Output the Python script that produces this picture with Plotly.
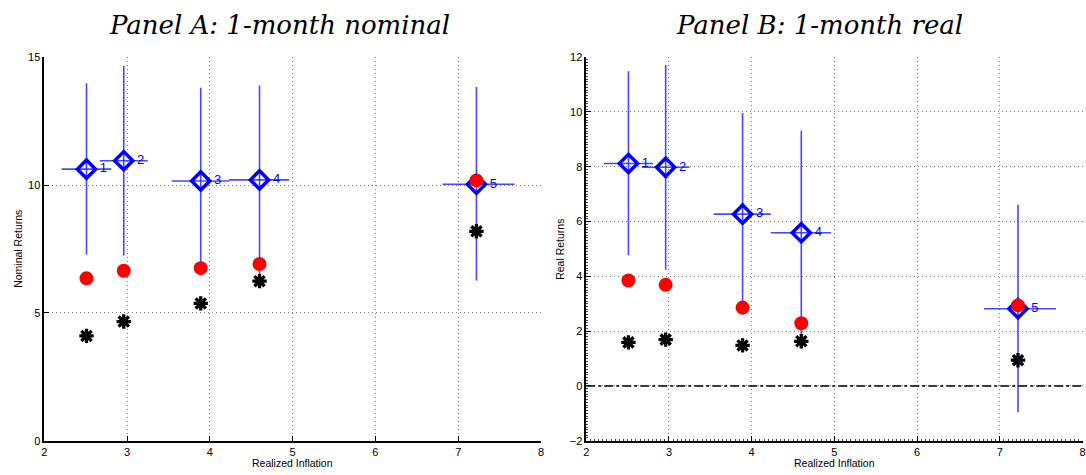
import plotly.graph_objects as go

# ---------------- data ----------------
groups = ["1", "2", "3", "4", "5"]
inflation = [2.51, 2.96, 3.89, 4.60, 7.22]
infl_low = [2.21, 2.67, 3.54, 4.23, 6.81]
infl_high = [2.81, 3.25, 4.23, 4.96, 7.68]

# Panel A: nominal
nom_est = [10.62, 10.95, 10.16, 10.20, 10.03]
nom_low = [7.28, 7.24, 6.96, 6.45, 6.27]
nom_high = [13.98, 14.65, 13.80, 13.89, 13.83]
nom_red = [6.35, 6.65, 6.75, 6.91, 10.18]
nom_black = [4.10, 4.66, 5.37, 6.24, 8.19]

# Panel B: real
real_est = [8.12, 7.98, 6.27, 5.59, 2.82]
real_low = [4.77, 4.24, 2.60, 1.90, -0.96]
real_high = [11.49, 11.71, 9.96, 9.31, 6.61]
real_red = [3.85, 3.69, 2.86, 2.29, 2.94]
real_black = [1.59, 1.69, 1.48, 1.63, 0.94]

W, H = 1086, 475
BLUE = "#0000ff"
EBLUE = "rgba(40,40,255,0.85)"

fig = go.Figure()


def add_panel(xa, ya, est, low, high, red, black):
    fig.add_trace(go.Scatter(
        x=inflation, y=est, xaxis=xa, yaxis=ya, mode="markers+text",
        text=[" " + g for g in groups], textposition="middle right",
        textfont=dict(color=BLUE, size=13, family="Liberation Sans"),
        marker=dict(symbol="diamond-open", size=14, color=BLUE,
                    line=dict(width=3.5, color=BLUE)),
        error_y=dict(type="data", symmetric=False,
                     array=[h - e for h, e in zip(high, est)],
                     arrayminus=[e - l for e, l in zip(est, low)],
                     width=0, thickness=1.6, color=EBLUE),
        error_x=dict(type="data", symmetric=False,
                     array=[h - e for h, e in zip(infl_high, inflation)],
                     arrayminus=[e - l for e, l in zip(inflation, infl_low)],
                     width=0, thickness=1.6, color=EBLUE),
        showlegend=False, hoverinfo="skip"))
    fig.add_trace(go.Scatter(
        x=inflation, y=red, xaxis=xa, yaxis=ya, mode="markers",
        marker=dict(symbol="circle", size=14, color="#ff0000",
                    line=dict(width=0)),
        showlegend=False))
    fig.add_trace(go.Scatter(
        x=inflation, y=black, xaxis=xa, yaxis=ya, mode="markers",
        marker=dict(symbol="asterisk-open", size=12, color="black",
                    line=dict(width=3.3, color="black")),
        showlegend=False))


add_panel("x", "y", nom_est, nom_low, nom_high, nom_red, nom_black)
add_panel("x2", "y2", real_est, real_low, real_high, real_red, real_black)

# zero line in panel B
fig.add_trace(go.Scatter(
    x=[2, 8], y=[0, 0], xaxis="x2", yaxis="y2", mode="lines",
    line=dict(color="black", width=1.5, dash="dashdot"),
    showlegend=False, hoverinfo="skip"))

tickfont = dict(family="Liberation Sans", size=11, color="black")
common_axis = dict(
    showline=True, linecolor="black", linewidth=1.5, mirror=False,
    ticks="inside", ticklen=5, tickcolor="black", tickfont=tickfont,
    showgrid=True, gridcolor="#7a7a7a", gridwidth=1, griddash="1px,3px",
    zeroline=False, fixedrange=True,
)

ydom = [(H - 446) / H, (H - 52.5) / H]
xdomA = [41.5 / W, 541 / W]
xdomB = [586.5 / W, 1085.5 / W]

fig.update_layout(
    width=W, height=H,
    margin=dict(l=0, r=0, t=0, b=0),
    paper_bgcolor="white", plot_bgcolor="white",
    xaxis=dict(domain=xdomA, range=[2, 8], dtick=1, anchor="y", **common_axis),
    yaxis=dict(domain=ydom, range=[0, 15], dtick=5, anchor="x", **common_axis),
    xaxis2=dict(domain=xdomB, range=[2, 8], dtick=1, anchor="y2",
                minor=dict(ticks="inside", ticklen=2, dtick=0.05,
                           tickcolor="#444", showgrid=False),
                **common_axis),
    yaxis2=dict(domain=ydom, range=[-2, 12], dtick=2, anchor="x2",
                minor=dict(ticks="inside", ticklen=2, dtick=0.1,
                           tickcolor="#444", showgrid=False),
                **common_axis),
)

title_font = dict(family="DejaVu Serif", size=26, color="black", style="italic")
label_font = dict(family="Liberation Sans", size=10.5, color="black")

annotations = [
    dict(text="Panel A: 1-month nominal", x=278 / W, y=1 - 19 / H,
         xref="paper", yref="paper", showarrow=False, font=title_font,
         xanchor="center", yanchor="middle"),
    dict(text="Panel B: 1-month real", x=821 / W, y=1 - 19 / H,
         xref="paper", yref="paper", showarrow=False, font=title_font,
         xanchor="center", yanchor="middle"),
    dict(text="Realized Inflation", x=(xdomA[0] + xdomA[1]) / 2, y=1 - 469 / H,
         xref="paper", yref="paper", showarrow=False, font=label_font,
         xanchor="center", yanchor="middle"),
    dict(text="Realized Inflation", x=(xdomB[0] + xdomB[1]) / 2, y=1 - 469 / H,
         xref="paper", yref="paper", showarrow=False, font=label_font,
         xanchor="center", yanchor="middle"),
    dict(text="Nominal Returns", x=15 / W, y=(ydom[0] + ydom[1]) / 2,
         xref="paper", yref="paper", showarrow=False, font=label_font,
         textangle=-90, xanchor="center", yanchor="middle"),
    dict(text="Real Returns", x=560 / W, y=(ydom[0] + ydom[1]) / 2,
         xref="paper", yref="paper", showarrow=False, font=label_font,
         textangle=-90, xanchor="center", yanchor="middle"),
]
fig.update_layout(annotations=annotations)

fig.write_html("out.html")
